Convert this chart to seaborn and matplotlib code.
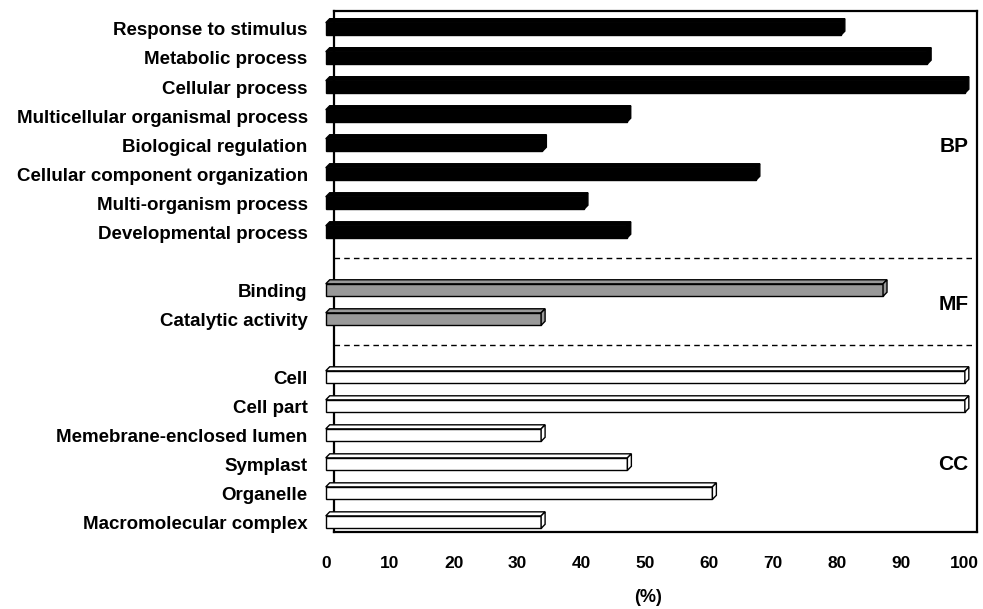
import numpy as np
import pandas as pd
import matplotlib
matplotlib.use("Agg")
import matplotlib.pyplot as plt
from matplotlib.patches import Polygon
import seaborn as sns

# GO categories, values (%)
bp_terms = ["Response to stimulus", "Metabolic process", "Cellular process",
            "Multicellular organismal process", "Biological regulation",
            "Cellular component organization", "Multi-organism process",
            "Developmental process"]
bp_values = [80.6, 94.1, 100, 47.1, 33.9, 67.3, 40.4, 47.1]

mf_terms = ["Binding", "Catalytic activity"]
mf_values = [87.2, 33.7]

cc_terms = ["Cell", "Cell part", "Memebrane-enclosed lumen", "Symplast",
            "Organelle", "Macromolecular complex"]
cc_values = [100, 100, 33.7, 47.2, 60.5, 33.7]

group_names = ["BP", "MF", "CC"]
group_colors = {"BP": "black", "MF": "#999999", "CC": "white"}

df = pd.DataFrame({
    "term": bp_terms + mf_terms + cc_terms,
    "value": bp_values + mf_values + cc_values,
    "group": ["BP"] * len(bp_terms) + ["MF"] * len(mf_terms) + ["CC"] * len(cc_terms),
})
# empty rows between the groups
order = bp_terms + [" "] + mf_terms + ["  "] + cc_terms

sns.set_style("white")
plt.rcParams["font.family"] = ["Liberation Sans", "DejaVu Sans"]
plt.rcParams["font.weight"] = "bold"
for key in ["text.color", "axes.labelcolor", "xtick.color", "ytick.color"]:
    plt.rcParams[key] = "black"

fig = plt.figure(figsize=(9.83, 6.09), dpi=100)
ax = fig.add_axes([320 / 983, 1 - 532 / 609, (977 - 320) / 983, (532 - 11) / 609])

sns.barplot(data=df, x="value", y="term", hue="group", order=order,
            palette=group_colors, dodge=False, width=0.43, orient="h",
            edgecolor="black", linewidth=1.0, legend=False, ax=ax, zorder=3)

# pseudo-3D: top and side faces for each bar
dx, dy = 0.62, 0.14
for p in list(ax.patches):
    x0, y0 = p.get_x(), p.get_y()
    w, h = p.get_width(), p.get_height()
    if not np.isfinite(w) or w == 0:
        continue
    fc = p.get_facecolor()
    x1 = x0 + w
    top = Polygon([(x0, y0), (x0 + dx, y0 - dy), (x1 + dx, y0 - dy), (x1, y0)],
                  closed=True, facecolor=fc, edgecolor="black", linewidth=1.0,
                  zorder=3)
    side = Polygon([(x1, y0), (x1 + dx, y0 - dy), (x1 + dx, y0 + h - dy), (x1, y0 + h)],
                   closed=True, facecolor=fc, edgecolor="black", linewidth=1.0,
                   zorder=3)
    ax.add_patch(top)
    ax.add_patch(side)

ax.set_xlim(-0.9, 101.9)
ax.set_ylim(17.34, -0.62)

# frame
frame_left = 1.3
ax.spines["left"].set_position(("data", frame_left))
ax.spines["top"].set_bounds(frame_left, 101.9)
ax.spines["bottom"].set_bounds(frame_left, 101.9)
for s in ax.spines.values():
    s.set_color("black")
    s.set_linewidth(1.6)

# group separators
for yy in [7.88, 10.9]:
    ax.plot([frame_left, 101.9], [yy, yy], color="black", linewidth=1.0,
            linestyle=(0, (4, 3)), zorder=2)

# group labels
for name, ypos in zip(group_names, [4.05, 9.5, 15.0]):
    ax.text(100.6, ypos, name, ha="right", va="center", fontsize=15,
            fontweight="bold", color="black")

ax.set_xticks(np.arange(0, 101, 10))
ax.set_xticklabels([str(v) for v in range(0, 101, 10)], fontsize=12.5, fontweight="bold")
ax.set_yticks(range(len(order)))
ax.set_yticklabels(order, fontsize=13.5, fontweight="bold")
ax.tick_params(axis="y", length=0, pad=19)
ax.tick_params(axis="x", length=0, pad=17)
ax.set_ylabel("")
ax.set_xlabel("(%)", fontsize=13, fontweight="bold", labelpad=13)

fig.savefig("out.png", dpi=100)
